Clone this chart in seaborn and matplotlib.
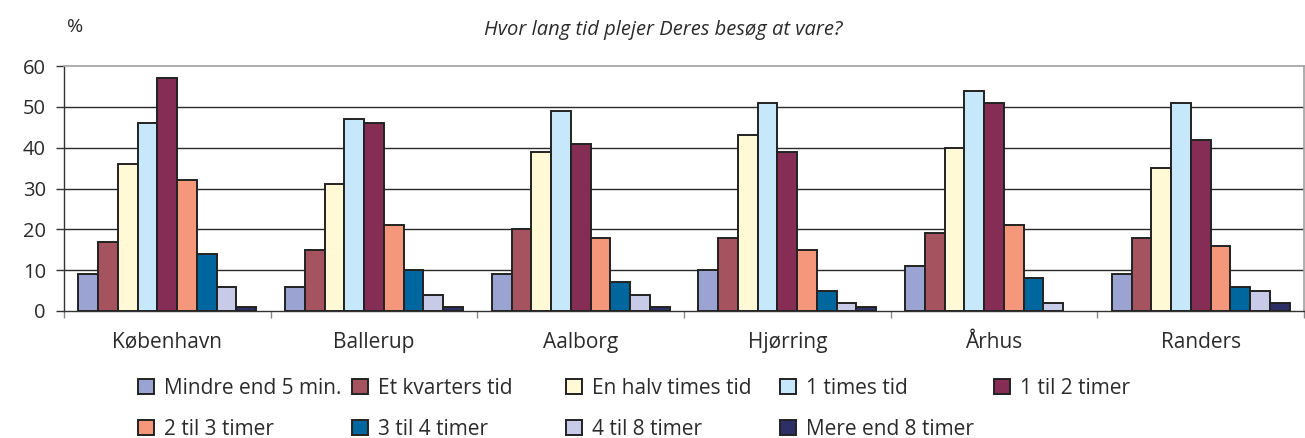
import matplotlib
matplotlib.use("Agg")
import matplotlib.pyplot as plt
from matplotlib.patches import Patch
import seaborn as sns
import pandas as pd

cities = ["København", "Ballerup", "Aalborg", "Hjørring", "Århus", "Randers"]
durations = [
    "Mindre end 5 min.", "Et kvarters tid", "En halv times tid", "1 times tid",
    "1 til 2 timer", "2 til 3 timer", "3 til 4 timer", "4 til 8 timer",
    "Mere end 8 timer",
]
# share of visits (%) per city, one list per duration
mindre_end_5_min = [9, 6, 9, 10, 11, 9]
et_kvarters_tid = [17, 15, 20, 18, 19, 18]
en_halv_times_tid = [36, 31, 39, 43, 40, 35]
en_times_tid = [46, 47, 49, 51, 54, 51]
en_til_2_timer = [57, 46, 41, 39, 51, 42]
to_til_3_timer = [32, 21, 18, 15, 21, 16]
tre_til_4_timer = [14, 10, 7, 5, 8, 6]
fire_til_8_timer = [6, 4, 4, 2, 2, 5]
mere_end_8_timer = [1, 1, 1, 1, 0, 2]

series = [mindre_end_5_min, et_kvarters_tid, en_halv_times_tid, en_times_tid,
          en_til_2_timer, to_til_3_timer, tre_til_4_timer, fire_til_8_timer,
          mere_end_8_timer]
colors = ["#9AA3D2", "#A5535F", "#FFFAD5", "#C7E8FA", "#852D54",
          "#F5977A", "#00669E", "#C8CBE8", "#2D2F66"]

rows = []
for dur, vals in zip(durations, series):
    for city, v in zip(cities, vals):
        rows.append({"by": city, "varighed": dur, "pct": v})
df = pd.DataFrame(rows)

sns.set_theme(style="white")
plt.rcParams["font.family"] = ["Open Sans", "DejaVu Sans"]
txt = "#2b2b2b"
edge = "#222222"

fig = plt.figure(figsize=(13.05, 4.38), dpi=100)
ax = fig.add_axes([64 / 1305, 1 - 311 / 438, 1240 / 1305, 245 / 438])

sns.barplot(data=df, x="by", y="pct", hue="varighed", order=cities,
            hue_order=durations, palette=colors, saturation=1, width=0.86,
            edgecolor=edge, linewidth=1.4, legend=False, ax=ax, zorder=3)
# hide the outline of empty (zero) bars
for p in ax.patches:
    if p.get_height() == 0:
        p.set_visible(False)

ax.set_xlim(-0.5, len(cities) - 0.5)
ax.set_ylim(0, 60)
ax.set_yticks(range(0, 61, 10))
ax.set_xlabel("")
ax.set_ylabel("")
for y in range(10, 60, 10):
    ax.axhline(y, color="#2a2a2a", lw=1.0, zorder=1)

for s in ["top", "right"]:
    ax.spines[s].set_color("#a0a0a0")
    ax.spines[s].set_linewidth(1.2)
for s in ["left", "bottom"]:
    ax.spines[s].set_color("#333333")
    ax.spines[s].set_linewidth(1.0)

ax.tick_params(axis="y", direction="out", length=6, width=1.0,
               color="#333333", pad=7, labelsize=14.5, labelcolor=txt, left=True)
ax.tick_params(axis="x", which="major", length=0, pad=15, labelsize=15,
               labelcolor=txt)
ax.set_xticks([i - 0.5 for i in range(len(cities) + 1)], minor=True)
ax.tick_params(axis="x", which="minor", direction="out", length=5, width=1.0,
               color="#888888", bottom=True)

fig.text(67 / 1305, 1 - 27 / 438, "%", fontsize=14, color=txt, va="center")
fig.text(663 / 1305, 1 - 30 / 438, "Hvor lang tid plejer Deres besøg at vare?",
         fontsize=14.5, style="italic", color=txt, ha="center", va="center")

# legend: five evenly spaced columns, two rows
handles = [Patch(facecolor=c, edgecolor=edge, linewidth=1.4) for c in colors]
col_x = [138 + 214 * i for i in range(5)]
for i, x in enumerate(col_x):
    idx = [j for j in (i, i + 5) if j < len(durations)]
    fig.legend([handles[j] for j in idx], [durations[j] for j in idx],
               loc="upper left", bbox_to_anchor=(x / 1305, 1 - 378 / 438),
               frameon=False, fontsize=15, handlelength=0.75,
               handleheight=0.75, handletextpad=0.5, labelspacing=0.95,
               borderpad=0, borderaxespad=0, labelcolor=txt)

fig.savefig("out.png", dpi=100)
